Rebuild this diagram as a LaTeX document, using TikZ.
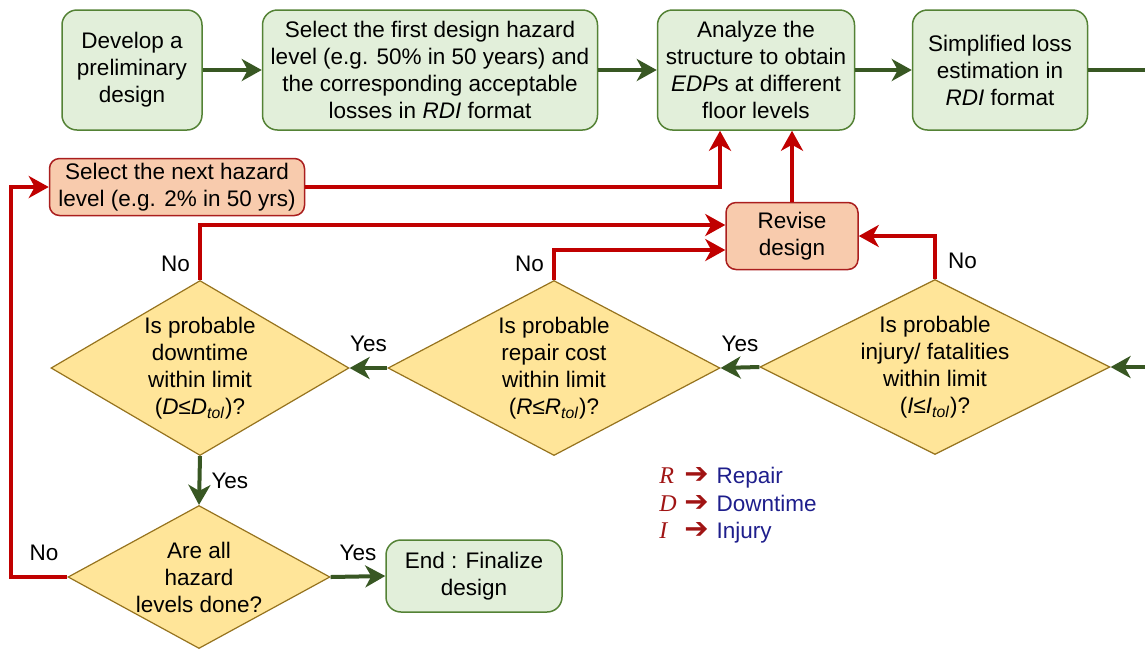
\documentclass[tikz,border=0pt]{standalone}
\usepackage{fontspec}
\setmainfont{Liberation Sans}
\newfontfamily\legserif{Liberation Serif}
\newfontfamily\symfont{DejaVu Sans}
\usetikzlibrary{shapes.geometric, arrows.meta, calc, positioning}
\definecolor{boxgreen}{RGB}{226,239,218}
\definecolor{boxgreenline}{RGB}{84,130,53}
\definecolor{flowgreen}{RGB}{56,87,35}
\definecolor{boxpeach}{RGB}{248,203,173}
\definecolor{boxpeachline}{RGB}{170,30,30}
\definecolor{flowred}{RGB}{192,0,0}
\definecolor{qyellow}{RGB}{255,229,153}
\definecolor{qyellowline}{RGB}{150,115,30}
\definecolor{legred}{RGB}{160,20,20}
\definecolor{legblue}{RGB}{30,30,140}
\newcommand{\legkey}[2]{\makebox[12.5pt][l]{\legserif\itshape\fontsize{12}{12}\selectfont\color{legred}#1}{\symfont\fontsize{14.5}{14.5}\selectfont\bfseries\color{legred}➔}\hspace{4pt}\textcolor{legblue}{#2}}

\begin{document}
\begin{tikzpicture}[x=0.5pt, y=-0.5pt,
    every node/.style={font=\fontsize{11.25}{13.5}\selectfont, align=center},
    task/.style={rectangle, rounded corners=7.5pt, draw=boxgreenline, fill=boxgreen, line width=0.75pt, minimum height=60pt, inner sep=2pt},
    redo/.style={rectangle, rounded corners=5pt, draw=boxpeachline, fill=boxpeach, line width=0.75pt, inner sep=2pt},
    decision/.style={diamond, draw=qyellowline, fill=qyellow, line width=0.6pt, inner sep=0pt, minimum height=87.5pt},
    yesarrow/.style={-{Stealth[length=10pt, width=11pt, inset=3pt]}, line width=2pt, flowgreen},
    noarrow/.style={-{Stealth[length=10pt, width=11pt, inset=3pt]}, line width=2pt, flowred},
    edgelabel/.style={inner sep=1pt, text=black},
    legline/.style={anchor=base west, inner sep=0pt}
]
\useasboundingbox (0,0) rectangle (1145,650);

% Top row
\node[task, minimum width=70pt] (dev) at (132,70) {Develop a\\preliminary\\design};
\node[task, minimum width=167.5pt] (sel) at (430,70) {Select the first design hazard\\level (e.g. 50\% in 50 years) and\\the corresponding acceptable\\losses in \textit{RDI} format};
\node[task, minimum width=98.5pt] (ana) at (756,70) {Analyze the\\structure to obtain\\\textit{EDP}s at different\\floor levels};
\node[task, minimum width=87.5pt] (loss) at (1000,70) {Simplified loss\\estimation in\\\textit{RDI} format};

\draw[yesarrow] (dev) -- (sel);
\draw[yesarrow] (sel) -- (ana);
\draw[yesarrow] (ana) -- (loss);

% Redo boxes
\node[redo, minimum width=127.5pt, minimum height=28.5pt] (nxt) at (177,187) {Select the next hazard\\level (e.g. 2\% in 50 yrs)};
\node[redo, minimum width=66pt, minimum height=33.5pt] (rev) at (792,236) {Revise\\design};

% Checks
\node[decision, minimum width=175pt, label={center:{Is probable\\injury/ fatalities\\within limit\\(\textit{I}≤\textit{I}\textsubscript{\textit{tol}})?}}] (inj) at (935,367) {};
\node[decision, minimum width=166pt, label={center:{Is probable\\repair cost\\within limit\\(\textit{R}≤\textit{R}\textsubscript{\textit{tol}})?}}] (rep) at (554,368) {};
\node[decision, minimum width=149pt, label={center:{Is probable\\downtime\\within limit\\(\textit{D}≤\textit{D}\textsubscript{\textit{tol}})?}}] (dt) at (200,368) {};
\node[decision, minimum width=131pt, minimum height=71.5pt, label={center:{Are all\\hazard\\levels done?}}] (hz) at (199,577) {};
\node[task, minimum width=88pt, minimum height=36pt] (fin) at (474,576) {End : Finalize\\design};

% Loss estimate leaves the frame and comes back into the first check
\coordinate (outR) at (1160,70);
\coordinate (inR) at (1160,367);
\draw[line width=2pt, flowgreen] (loss) -- (outR);
\draw[yesarrow] (inR) -- (inj.east);

\draw[yesarrow] (inj.west) -- node[edgelabel, above=6pt] {Yes} (rep.east);
\draw[yesarrow] (rep.west) -- node[edgelabel, above=6pt] {Yes} (dt.east);
\draw[yesarrow] (dt.south) -- node[edgelabel, right=4pt] {Yes} (hz.north);
\draw[yesarrow] (hz.east) -- node[edgelabel, above=6pt] {Yes} (fin.west);

% Failed checks -> revise
\draw[noarrow] (dt.north) node[edgelabel, anchor=south east, xshift=-3pt, yshift=2pt] {No} |- ($(rev.west)+(0,-11)$);
\draw[noarrow] (rep.north) node[edgelabel, anchor=south east, xshift=-3pt, yshift=2pt] {No} |- ($(rev.west)+(0,14)$);
\draw[noarrow] (inj.north) node[edgelabel, anchor=south west, xshift=4.5pt, yshift=3pt] {No} |- (rev.east);
\draw[noarrow] (rev.north) -- (rev.north |- ana.south);

% Next hazard level
\draw[noarrow] (hz.west) node[edgelabel, anchor=south east, xshift=-2.5pt, yshift=6pt] {No} -- ++(-56,0) |- (nxt.west);
\draw[noarrow] (nxt.east) -| ($(ana.south)+(-36,0)$);

% Legend
\node[legline] (legR) at (659,483) {\legkey{R}{Repair}};
\node[legline] (legD) at (659,511) {\legkey{D}{Downtime}};
\node[legline] (legI) at (659,538) {\legkey{I}{Injury}};
\end{tikzpicture}
\end{document}
